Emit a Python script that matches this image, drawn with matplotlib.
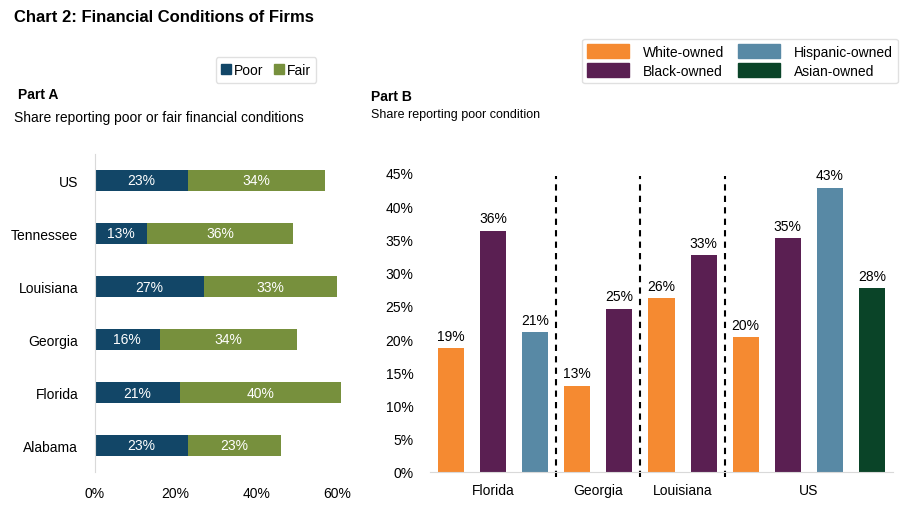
import numpy as np
import matplotlib
matplotlib.use("Agg")
import matplotlib.pyplot as plt
from matplotlib.patches import Patch

plt.rcParams["font.family"] = ["Liberation Sans", "DejaVu Sans"]

# ── data ──
states_a = ["Alabama", "Florida", "Georgia", "Louisiana", "Tennessee", "US"]
poor_a = [23, 21, 16, 27, 13, 23]
fair_a = [23, 40, 34, 33, 36, 34]

groups_b = ["Florida", "Georgia", "Louisiana", "US"]
white_b = [18.6, 13.0, 26.2, 20.3]
black_b = [36.3, 24.6, 32.6, 35.2]
hisp_b = [21.0, None, None, 42.8]
asian_b = [None, None, None, 27.7]

C_POOR, C_FAIR = "#124667", "#77903D"
C_WHITE, C_BLACK, C_HISP, C_ASIAN = "#F58A31", "#5A1F52", "#5889A5", "#0A4428"

W, H = 913, 506
fig = plt.figure(figsize=(W / 100, H / 100), dpi=100)


def box(l, t, r, b):
    return [l / W, 1 - b / H, (r - l) / W, (b - t) / H]


fig.text(14 / W, 1 - 18 / H, "Chart 2: Financial Conditions of Firms",
         fontsize=12, fontweight="bold", va="center")

# ── Part A ──
axA = fig.add_axes(box(95, 155, 95 + 65 * 4.033, 473))
y = np.arange(len(states_a))
b1 = axA.barh(y, poor_a, 0.4, color=C_POOR, label="Poor")
b2 = axA.barh(y, fair_a, 0.4, left=poor_a, color=C_FAIR, label="Fair")
for bars in (b1, b2):
    axA.bar_label(bars, labels=[f"{v:.0f}%" for v in bars.datavalues],
                  label_type="center", color="white", fontsize=10)
axA.set_xlim(0, 65)
axA.set_ylim(-0.5, 5.5)
axA.set_yticks(y, states_a, fontsize=10)
axA.set_xticks([0, 20, 40, 60], ["0%", "20%", "40%", "60%"], fontsize=10)
axA.tick_params(length=0)
axA.tick_params(axis="x", pad=10)
axA.tick_params(axis="y", pad=12)
for s in ["top", "right", "bottom"]:
    axA.spines[s].set_visible(False)
axA.spines["left"].set_color("#d9d9d9")

fig.legend(handles=[Patch(color=C_POOR), Patch(color=C_FAIR)],
           labels=["Poor", "Fair"], loc="center", ncol=2,
           bbox_to_anchor=(266 / W, 1 - 71 / H), fontsize=10,
           handlelength=0.7, handleheight=0.7, handletextpad=0.2,
           columnspacing=0.8, frameon=True, edgecolor="#d9d9d9", fancybox=True)

fig.text(18 / W, 1 - 95 / H, "Part A", fontsize=10, fontweight="bold", va="center")
fig.text(14 / W, 1 - 118 / H, "Share reporting poor or fair financial conditions",
         fontsize=10, va="center")

# ── Part B ──
axB = fig.add_axes(box(430, 174, 893, 473))
series = [(white_b, C_WHITE, "White-owned"), (black_b, C_BLACK, "Black-owned"),
          (hisp_b, C_HISP, "Hispanic-owned"), (asian_b, C_ASIAN, "Asian-owned")]
pos = 0
centers = []
for gi, g in enumerate(groups_b):
    start = pos
    for vals, col, lab in series:
        v = vals[gi]
        if v is None:
            continue
        axB.bar(pos, v, 0.62, color=col)
        axB.text(pos, v + 0.8, f"{v:.0f}%", ha="center", va="bottom", fontsize=10)
        pos += 1
    centers.append((start + pos - 1) / 2)
    if gi < len(groups_b) - 1:
        axB.plot([pos - 0.5, pos - 0.5], [-0.8, 44.5], ls=(0, (3, 2.5)),
                 color="black", lw=1.5, clip_on=False)

axB.set_xlim(-0.5, pos - 0.5)
axB.set_ylim(0, 45)
axB.set_yticks(np.arange(0, 46, 5), [f"{v}%" for v in range(0, 46, 5)], fontsize=10)
axB.set_xticks(centers, groups_b, fontsize=10)
axB.tick_params(length=0)
axB.tick_params(axis="y", pad=12)
axB.tick_params(axis="x", pad=8)
for s in ["top", "right", "left"]:
    axB.spines[s].set_visible(False)
axB.spines["bottom"].set_color("#d9d9d9")

fig.legend(handles=[Patch(color=c) for _, c, _ in series],
           labels=[l for _, _, l in series], loc="center", ncol=2,
           bbox_to_anchor=(740 / W, 1 - 62 / H), fontsize=10,
           handlelength=3.0, handleheight=1.1, handletextpad=1.0,
           columnspacing=1.0, labelspacing=0.35,
           frameon=True, edgecolor="#d9d9d9", fancybox=True)

fig.text(371 / W, 1 - 97 / H, "Part B", fontsize=10, fontweight="bold", va="center")
fig.text(371 / W, 1 - 115 / H, "Share reporting poor condition", fontsize=9, va="center")

fig.savefig("out.png", dpi=100, facecolor="white")
